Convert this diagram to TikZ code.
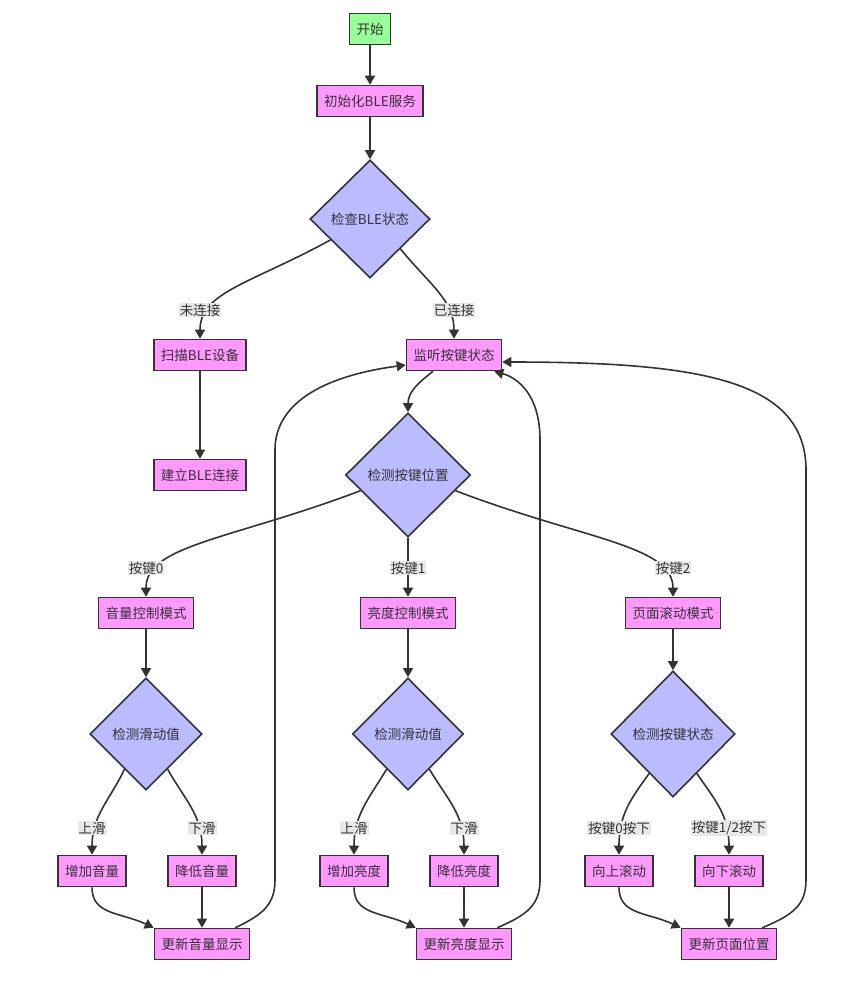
\documentclass[tikz,border=0pt]{standalone}
\usepackage{fontspec}
\setmainfont{Noto Sans CJK SC}
\usetikzlibrary{arrows.meta,shapes.geometric,calc}
\definecolor{pinkf}{HTML}{FF99FF}
\definecolor{bluef}{HTML}{BBBBFF}
\definecolor{greenf}{HTML}{99FF99}
\definecolor{ink}{HTML}{333333}
\definecolor{lblbg}{HTML}{E8E8E8}
\begin{document}
\begin{tikzpicture}[x=1pt,y=-1pt,
  every node/.style={font=\fontsize{13.5}{16}\selectfont, text=ink},
  box/.style={draw=ink, line width=1.6pt, fill=pinkf, minimum height=31pt, inner xsep=7pt, inner ysep=0pt},
  startbox/.style={box, fill=greenf},
  dia/.style={diamond, draw=ink, line width=1.6pt, fill=bluef, inner sep=0pt},
  lbl/.style={fill=lblbg, inner sep=1pt},
  arr/.style={draw=ink, line width=1.6pt, -{Triangle[length=9pt,width=10pt]}}]
\useasboundingbox (0,0) rectangle (865,986);
% nodes
\node[startbox] (start) at (370,29) {开始};
\node[box] (init) at (370,101) {初始化BLE服务};
\node[dia, minimum width=120pt, minimum height=118pt] (c1) at (370,219) {检查BLE状态};
\node[box] (scan) at (200,355) {扫描BLE设备};
\node[box] (listen) at (454,355) {监听按键状态};
\node[box] (conn) at (200,475) {建立BLE连接};
\node[dia, minimum width=125pt, minimum height=124pt] (d) at (408,475) {检测按键位置};
\node[box] (m1) at (146,613) {音量控制模式};
\node[box] (m2) at (408,613) {亮度控制模式};
\node[box] (m3) at (673,613) {页面滚动模式};
\node[dia, minimum width=112pt, minimum height=112pt] (s1) at (146,734) {检测滑动值};
\node[dia, minimum width=111pt, minimum height=112pt] (s2) at (408,734) {检测滑动值};
\node[dia, minimum width=124pt, minimum height=126pt] (s3) at (673,734) {检测按键状态};
\node[box] (a1) at (92,871) {增加音量};
\node[box] (b1) at (202,871) {降低音量};
\node[box] (a2) at (354,871) {增加亮度};
\node[box] (b2) at (464,871) {降低亮度};
\node[box] (a3) at (619,871) {向上滚动};
\node[box] (b3) at (729,871) {向下滚动};
\node[box] (u1) at (202,944) {更新音量显示};
\node[box] (u2) at (464,944) {更新亮度显示};
\node[box] (u3) at (729,944) {更新页面位置};
% helper points on diamond borders
\coordinate (c1L) at ($(c1.west)!0.35!(c1.south)$);
\coordinate (c1R) at ($(c1.east)!0.5!(c1.south)$);
\coordinate (dL) at ($(d.west)!0.25!(d.south)$);
\coordinate (dR) at ($(d.east)!0.25!(d.south)$);
\coordinate (s1L) at ($(s1.west)!0.62!(s1.south)$);
\coordinate (s1R) at ($(s1.east)!0.62!(s1.south)$);
\coordinate (s2L) at ($(s2.west)!0.62!(s2.south)$);
\coordinate (s2R) at ($(s2.east)!0.62!(s2.south)$);
\coordinate (s3L) at ($(s3.west)!0.62!(s3.south)$);
\coordinate (s3R) at ($(s3.east)!0.62!(s3.south)$);
% edges
\draw[arr] (start) -- (init);
\draw[arr] (init) -- (c1);
\draw[arr] (c1L) .. controls (250,284) and (200,292) .. (scan.north);
\draw[arr] (c1R) .. controls (430,285) and (454,300) .. (listen.north);
\draw[arr] (scan) -- (conn);
\draw[arr] ($(listen.south)+(-21,0)$) .. controls (418,383) and (408,392) .. (d.north);
\draw[arr] (dL) .. controls (230,540) and (146,545) .. (m1.north);
\draw[arr] (d) -- (m2);
\draw[arr] (dR) .. controls (585,540) and (673,545) .. (m3.north);
\draw[arr] (m1) -- (s1);
\draw[arr] (m2) -- (s2);
\draw[arr] (m3) -- (s3);
\draw[arr] (s1L) .. controls (110,800) and (92,815) .. (a1.north);
\draw[arr] (s1R) .. controls (185,800) and (202,815) .. (b1.north);
\draw[arr] (s2L) .. controls (368,800) and (354,815) .. (a2.north);
\draw[arr] (s2R) .. controls (448,800) and (464,815) .. (b2.north);
\draw[arr] (s3L) .. controls (630,800) and (619,815) .. (a3.north);
\draw[arr] (s3R) .. controls (715,800) and (729,815) .. (b3.north);
\draw[arr] (a1.south) .. controls (92,915) and (120,912) .. (u1.north west);
\draw[arr] (a2.south) .. controls (354,915) and (382,912) .. (u2.north west);
\draw[arr] (a3.south) .. controls (619,915) and (647,912) .. (u3.north west);
\draw[arr] (b1) -- (u1);
\draw[arr] (b2) -- (u2);
\draw[arr] (b3) -- (u3);
\draw[arr] ($(u1.north east)+(-15,0)$) .. controls (262,915) and (275,905) .. (275,880) -- (275,450) .. controls (275,400) and (330,375) .. ($(listen.west)+(0,10)$);
\draw[arr] ($(u2.north east)+(-15,0)$) .. controls (527,915) and (540,905) .. (540,880) -- (540,440) .. controls (540,395) and (518,378) .. ($(listen.south east)+(-8,0)$);
\draw[arr] ($(u3.north east)+(-15,0)$) .. controls (793,915) and (806,905) .. (806,880) -- (806,470) .. controls (806,380) and (700,362) .. ($(listen.east)+(0,7)$);
% edge labels
\node[lbl] (l1) at (200,310) {未连接};
\node[lbl] (l2) at (454,310) {已连接};
\node[lbl] (l3) at (146,568) {按键0};
\node[lbl] (l4) at (408,568) {按键1};
\node[lbl] (l5) at (673,568) {按键2};
\node[lbl] (l6) at (92,828) {上滑};
\node[lbl] (l7) at (202,828) {下滑};
\node[lbl] (l8) at (354,828) {上滑};
\node[lbl] (l9) at (464,828) {下滑};
\node[lbl] (l10) at (619,828) {按键0按下};
\node[lbl] (l11) at (729,828) {按键1/2按下};
\end{tikzpicture}
\end{document}
